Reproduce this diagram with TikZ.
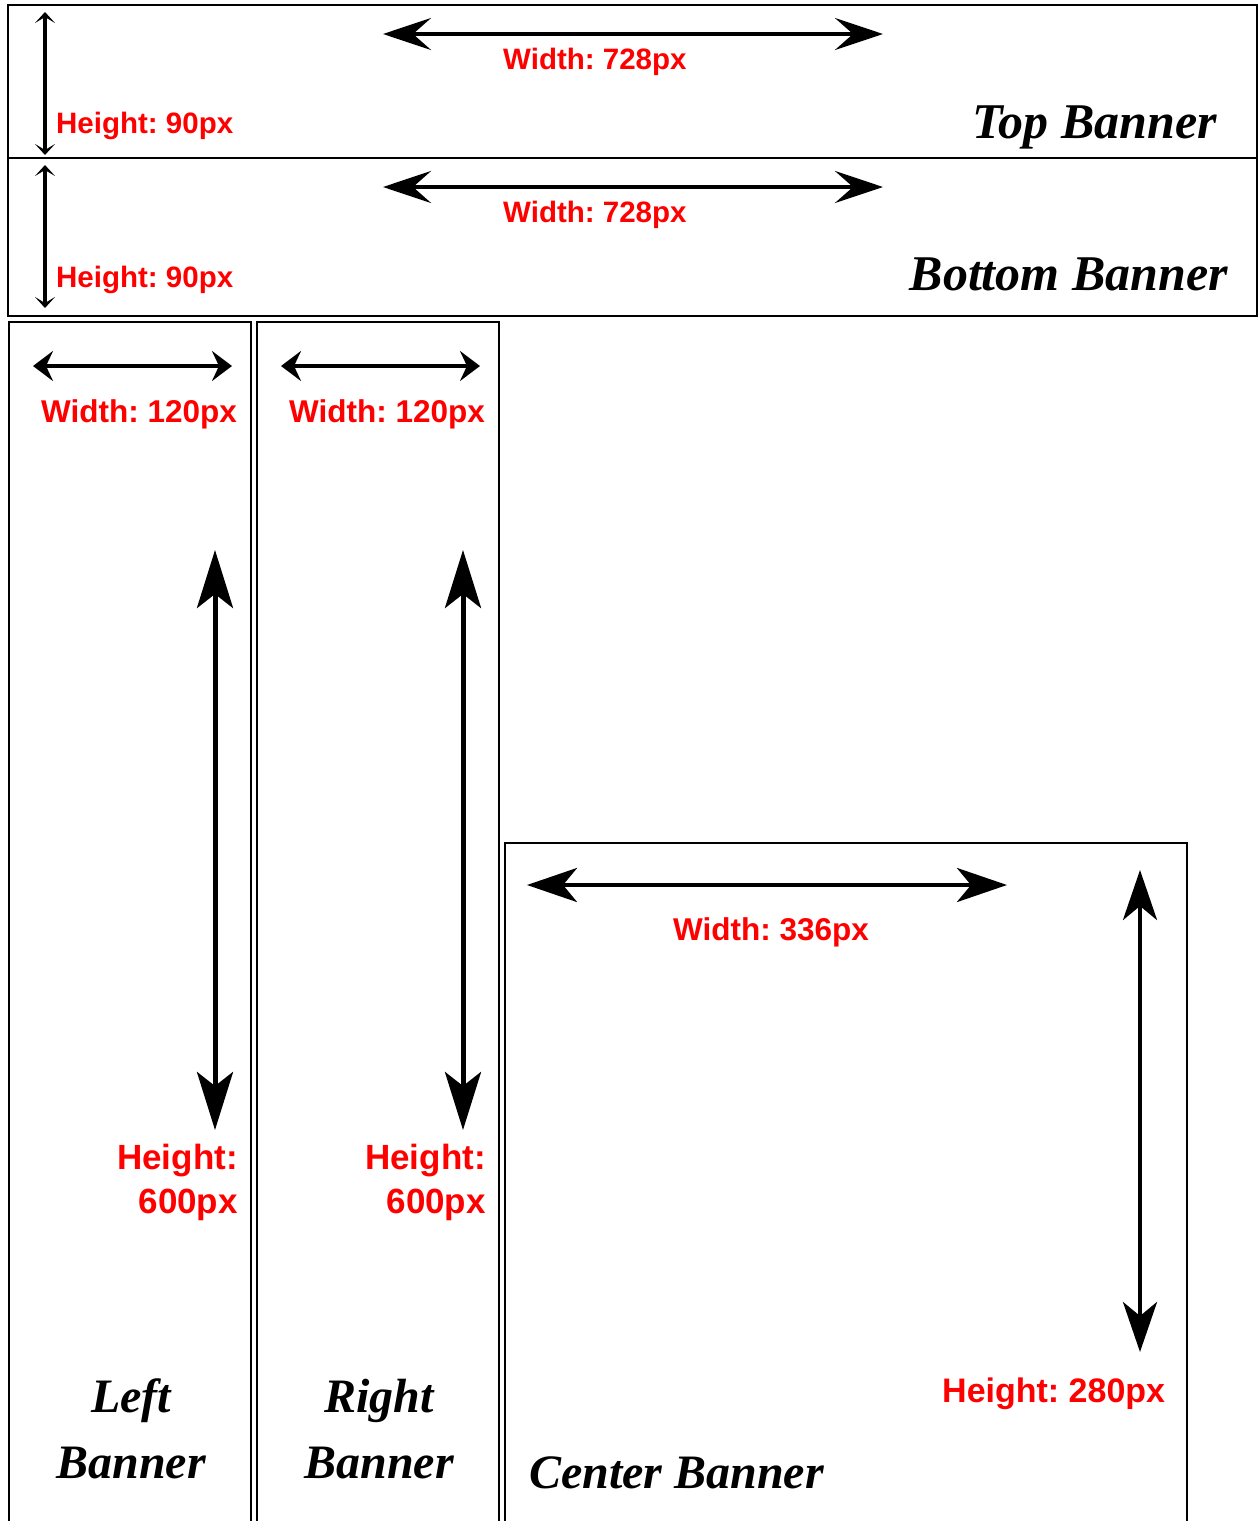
\documentclass[tikz,border=0pt]{standalone}
\usepackage{fontspec}
\setmainfont{Liberation Serif}
\newfontfamily\labfont{Liberation Sans}
\usetikzlibrary{arrows.meta}
\frenchspacing
\tikzset{
  box/.style={draw=black,line width=2.6pt},
  dimlab/.style={text=red,inner sep=0pt,font=\frenchspacing\labfont\bfseries\fontsize{#1}{#1}\selectfont},
  dimlab/.default=29.5,
  ttl/.style={inner sep=0pt,font=\bfseries\itshape\fontsize{48}{60}\selectfont},
  bigttl/.style={inner sep=0pt,font=\bfseries\itshape\fontsize{50}{60}\selectfont},
  smallarr/.style={line width=3.8pt,{Stealth[length=11pt,width=20pt,inset=6pt]}-{Stealth[length=11pt,width=20pt,inset=6pt]}},
  widearr/.style={line width=4.5pt,{Stealth[length=48pt,width=32pt,inset=18pt]}-{Stealth[length=48pt,width=32pt,inset=18pt]}},
  shortarr/.style={line width=4.5pt,{Stealth[length=20pt,width=30pt,inset=7pt]}-{Stealth[length=20pt,width=30pt,inset=7pt]}},
  tallarr/.style={line width=5pt,{Stealth[length=58pt,width=36pt,inset=14pt]}-{Stealth[length=58pt,width=36pt,inset=14pt]}},
  midarr/.style={line width=4.5pt,{Stealth[length=50pt,width=34pt,inset=14pt]}-{Stealth[length=50pt,width=34pt,inset=14pt]}}
}
\begin{document}
\begin{tikzpicture}[x=1pt,y=-1pt]
\useasboundingbox (0,0) rectangle (1259,1521);
\clip (0,0) rectangle (1259,1521);
\fill[white] (0,0) rectangle (1259,1521);

% boxes
\draw[box] (8,5) rectangle (1257,158);
\draw[box] (8,158) rectangle (1257,316);
\draw[box] (9,322) rectangle (251,1540);
\draw[box] (257,322) rectangle (499,1540);
\draw[box] (505,843) rectangle (1187,1540);

% top banner
\coordinate (th1) at (45,12);
\coordinate (th2) at (45,155);
\draw[smallarr] (th1) -- (th2);
\coordinate (tw1) at (383,34);
\coordinate (tw2) at (883,34);
\draw[widearr] (tw1) -- (tw2);
\node[dimlab,anchor=base west] (twl) at (503,69) {Width: 728px};
\node[dimlab,anchor=base west] (thl) at (56,133) {Height: 90px};
\node[bigttl,anchor=base east] (tt) at (1217,138) {Top Banner};

% bottom banner
\coordinate (bh1) at (45,165);
\coordinate (bh2) at (45,308);
\draw[smallarr] (bh1) -- (bh2);
\coordinate (bw1) at (383,187);
\coordinate (bw2) at (883,187);
\draw[widearr] (bw1) -- (bw2);
\node[dimlab,anchor=base west] (bwl) at (503,222) {Width: 728px};
\node[dimlab,anchor=base west] (bhl) at (56,287) {Height: 90px};
\node[bigttl,anchor=base east] (bt) at (1228,290) {Bottom Banner};

% left banner
\coordinate (lw1) at (33,366);
\coordinate (lw2) at (232,366);
\draw[shortarr] (lw1) -- (lw2);
\node[dimlab=31.5,anchor=base west] (lwl) at (41,422) {Width: 120px};
\coordinate (lh1) at (215,550);
\coordinate (lh2) at (215,1130);
\draw[tallarr] (lh1) -- (lh2);
\node[dimlab=35,anchor=base east] (lhl1) at (238,1169) {Height:};
\node[dimlab=35,anchor=base east] (lhl2) at (238,1213) {600px};
\node[ttl,anchor=base] (lt1) at (131,1412) {Left};
\node[ttl,anchor=base] (lt2) at (131,1478) {Banner};

% right banner
\coordinate (rw1) at (281,366);
\coordinate (rw2) at (480,366);
\draw[shortarr] (rw1) -- (rw2);
\node[dimlab=31.5,anchor=base west] (rwl) at (289,422) {Width: 120px};
\coordinate (rh1) at (463,550);
\coordinate (rh2) at (463,1130);
\draw[tallarr] (rh1) -- (rh2);
\node[dimlab=35,anchor=base east] (rhl1) at (486,1169) {Height:};
\node[dimlab=35,anchor=base east] (rhl2) at (486,1213) {600px};
\node[ttl,anchor=base] (rt1) at (379,1412) {Right};
\node[ttl,anchor=base] (rt2) at (379,1478) {Banner};

% center banner
\coordinate (cw1) at (527,885);
\coordinate (cw2) at (1007,885);
\draw[midarr] (cw1) -- (cw2);
\node[dimlab=31.5,anchor=base west] (cwl) at (673,940) {Width: 336px};
\coordinate (ch1) at (1140,870);
\coordinate (ch2) at (1140,1352);
\draw[midarr] (ch1) -- (ch2);
\node[dimlab=34,anchor=base west] (chl) at (942,1402) {Height: 280px};
\node[ttl,anchor=base west] (ct) at (529,1488) {Center Banner};
\end{tikzpicture}
\end{document}
